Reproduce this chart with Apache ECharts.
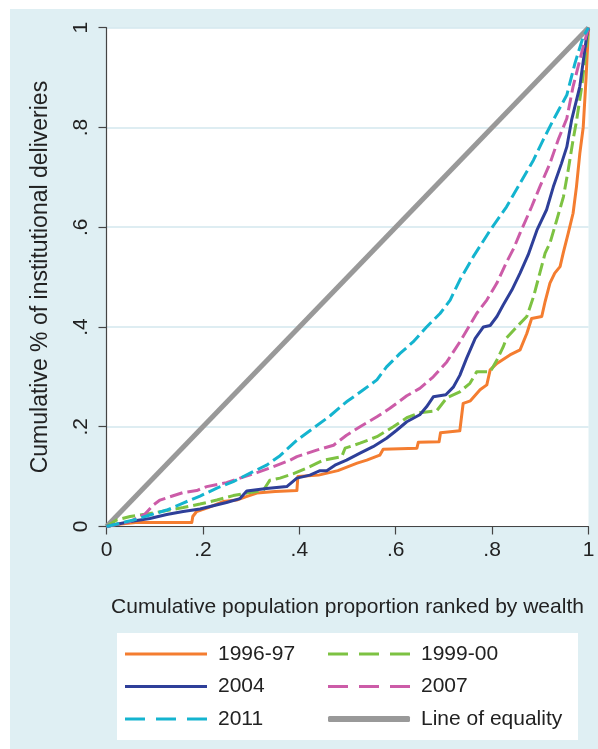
<!DOCTYPE html>
<html>
<head>
<meta charset="utf-8">
<script src="https://cdn.jsdelivr.net/npm/echarts@6/dist/echarts.min.js"></script>
<style>
html,body{margin:0;padding:0;background:#fff;}
#wrap{position:relative;width:598px;height:749px;background:#fff;overflow:hidden;}
#chart{position:absolute;left:10px;top:9px;width:588px;height:740px;}
</style>
</head>
<body>
<div id="wrap"><div id="chart"></div></div>
<script>
const seriesNames = ['1996-97','1999-00','2004','2007','2011','Line of equality'];
const tickValues = [0,0.2,0.4,0.6,0.8,1];
const tickLabels = ['0','.2','.4','.6','.8','1'];

const y1996 = [[0,0],[0.02,0.004],[0.06,0.008],[0.177,0.008],[0.179,0.02],[0.187,0.03],[0.211,0.038],[0.242,0.05],[0.27,0.053],[0.29,0.06],[0.312,0.067],[0.35,0.07],[0.395,0.072],[0.397,0.1],[0.44,0.103],[0.48,0.112],[0.52,0.127],[0.54,0.133],[0.567,0.143],[0.574,0.155],[0.644,0.157],[0.647,0.169],[0.69,0.17],[0.693,0.188],[0.733,0.192],[0.74,0.247],[0.755,0.252],[0.775,0.274],[0.789,0.284],[0.796,0.314],[0.81,0.327],[0.837,0.344],[0.858,0.354],[0.872,0.387],[0.882,0.417],[0.903,0.421],[0.91,0.451],[0.92,0.488],[0.93,0.508],[0.941,0.521],[0.948,0.55],[0.958,0.588],[0.968,0.628],[0.975,0.681],[0.982,0.748],[0.989,0.80],[0.995,0.90],[1,1]];
const y1999 = [[0,0],[0.021,0.013],[0.049,0.02],[0.09,0.026],[0.125,0.032],[0.159,0.038],[0.194,0.045],[0.229,0.053],[0.263,0.062],[0.291,0.067],[0.325,0.072],[0.339,0.093],[0.36,0.097],[0.388,0.106],[0.422,0.12],[0.45,0.133],[0.488,0.14],[0.495,0.157],[0.526,0.167],[0.561,0.18],[0.595,0.2],[0.623,0.218],[0.65,0.228],[0.685,0.232],[0.706,0.258],[0.733,0.27],[0.754,0.287],[0.768,0.31],[0.796,0.31],[0.81,0.334],[0.823,0.36],[0.83,0.378],[0.851,0.4],[0.872,0.421],[0.886,0.461],[0.899,0.508],[0.91,0.548],[0.92,0.568],[0.934,0.614],[0.948,0.661],[0.958,0.715],[0.968,0.775],[0.975,0.812],[0.986,0.882],[1,1]];
const y2004 = [[0,0],[0.049,0.010],[0.09,0.016],[0.125,0.024],[0.159,0.030],[0.194,0.035],[0.215,0.040],[0.249,0.048],[0.277,0.056],[0.291,0.071],[0.332,0.076],[0.374,0.080],[0.395,0.097],[0.422,0.103],[0.443,0.112],[0.457,0.112],[0.474,0.123],[0.498,0.133],[0.526,0.147],[0.553,0.160],[0.581,0.177],[0.602,0.193],[0.623,0.210],[0.650,0.224],[0.664,0.240],[0.678,0.260],[0.704,0.264],[0.720,0.280],[0.733,0.303],[0.747,0.337],[0.765,0.377],[0.782,0.400],[0.796,0.403],[0.810,0.421],[0.823,0.444],[0.841,0.474],[0.858,0.508],[0.875,0.545],[0.893,0.594],[0.913,0.635],[0.927,0.681],[0.944,0.728],[0.955,0.761],[0.965,0.815],[0.982,0.882],[0.996,0.982],[1,1]];
const y2007 = [[0,0],[0.049,0.010],[0.08,0.025],[0.097,0.043],[0.111,0.053],[0.159,0.068],[0.187,0.072],[0.208,0.080],[0.249,0.088],[0.277,0.097],[0.312,0.108],[0.346,0.120],[0.381,0.133],[0.395,0.140],[0.436,0.153],[0.471,0.163],[0.498,0.183],[0.526,0.200],[0.561,0.220],[0.588,0.237],[0.623,0.262],[0.650,0.277],[0.678,0.300],[0.706,0.330],[0.733,0.370],[0.768,0.427],[0.789,0.454],[0.810,0.488],[0.830,0.530],[0.844,0.556],[0.858,0.588],[0.882,0.641],[0.899,0.681],[0.920,0.728],[0.937,0.775],[0.955,0.818],[0.968,0.882],[0.989,0.962],[1,1]];
const y2011 = [[0,0],[0.056,0.013],[0.09,0.023],[0.125,0.033],[0.159,0.047],[0.194,0.061],[0.229,0.077],[0.263,0.090],[0.298,0.107],[0.332,0.123],[0.360,0.142],[0.395,0.173],[0.429,0.197],[0.464,0.222],[0.498,0.250],[0.533,0.274],[0.561,0.294],[0.581,0.320],[0.609,0.347],[0.636,0.370],[0.664,0.400],[0.692,0.427],[0.713,0.454],[0.733,0.494],[0.761,0.541],[0.796,0.594],[0.830,0.641],[0.858,0.688],[0.886,0.735],[0.906,0.775],[0.927,0.815],[0.955,0.865],[0.972,0.929],[0.989,0.982],[1,1]];
const equality = [[0,0],[1,1]];

const colors = {
  '1996-97':'#f47d30',
  '1999-00':'#7dc242',
  '2004':'#2e3f99',
  '2007':'#cc5ca8',
  '2011':'#14b4cf',
  'Line of equality':'#999999'
};
const FONT = '"Liberation Sans", Arial, Helvetica, sans-serif';
const TXT = '#222';
const DASH_ICON = 'path://M0,0h20v3h-20z M31,0h20v3h-20z M62,0h20v3h-20z';
const SOLID_ICON = 'path://M0,0h82v3h-82z';

function fmt(v){
  for (let i=0;i<tickValues.length;i++){ if (Math.abs(v-tickValues[i])<1e-9) return tickLabels[i]; }
  return '';
}

function lineSeries(name, data, dashed, width, z){
  return {
    name, type:'line', data, symbol:'none', z: z, animation:false,
    lineStyle:{color:colors[name], width:width, type: dashed ? [13,5] : 'solid', cap:'butt', join:'round'},
    itemStyle:{color:colors[name]}
  };
}

const chart = echarts.init(document.getElementById('chart'), null, {renderer:'canvas'});
const legendText = {fontFamily:FONT, fontSize:21, color:TXT, lineHeight:22, padding:[0,0,0,6]};
function legendBase(left, top, itemHeight, data){
  return {orient:'vertical', left, top, padding:0, itemWidth:82, itemHeight, itemGap:10.5,
    data, textStyle:legendText, selectedMode:false, z:5,
    itemStyle:{borderWidth:0}};
}
chart.setOption({
  backgroundColor:'#dfeff3',
  animation:false,
  textStyle:{fontFamily:FONT},
  grid:{left:96.5, top:18.7, width:482, height:498.8, show:true, backgroundColor:'#ffffff', borderWidth:0, containLabel:false},
  graphic:[{type:'rect', shape:{x:107, y:624, width:461, height:107}, style:{fill:'#ffffff'}, z:0, silent:true}],
  legend:[
    legendBase(115, 634, 3, [
      {name:'1996-97', icon:SOLID_ICON},
      {name:'2004', icon:SOLID_ICON},
      {name:'2011', icon:DASH_ICON}
    ]),
    legendBase(318, 634, 3, [
      {name:'1999-00', icon:DASH_ICON},
      {name:'2007', icon:DASH_ICON}
    ]),
    legendBase(318, 699, 6, [
      {name:'Line of equality', icon:'roundRect'}
    ])
  ],
  xAxis:{
    type:'value', min:0, max:1, interval:0.2,
    name:'Cumulative population proportion ranked by wealth', nameLocation:'middle', nameGap:70,
    nameTextStyle:{fontFamily:FONT, fontSize:21, color:TXT},
    axisLine:{show:true, lineStyle:{color:'#444', width:1.2}},
    axisTick:{show:true, length:8, lineStyle:{color:'#444', width:1.2}},
    axisLabel:{formatter:fmt, fontFamily:FONT, fontSize:21, color:TXT, margin:13},
    splitLine:{show:false}
  },
  yAxis:{
    type:'value', min:0, max:1, interval:0.2,
    name:'Cumulative % of institutional deliveries', nameLocation:'middle', nameGap:54, nameRotate:90,
    nameTextStyle:{fontFamily:FONT, fontSize:23, color:TXT},
    axisLine:{show:true, lineStyle:{color:'#444', width:1.2}},
    axisTick:{show:true, length:8, lineStyle:{color:'#444', width:1.2}},
    axisLabel:{formatter:fmt, fontFamily:FONT, fontSize:21, color:TXT, margin:15, rotate:90},
    splitLine:{show:true, lineStyle:{color:'#d3e7ee', width:1.5}}
  },
  series:[
    lineSeries('Line of equality', equality, false, 5, 2),
    lineSeries('1996-97', y1996, false, 3, 3),
    lineSeries('1999-00', y1999, true, 3, 3),
    lineSeries('2004', y2004, false, 3, 3),
    lineSeries('2007', y2007, true, 3, 3),
    lineSeries('2011', y2011, true, 3, 3)
  ]
});
</script>
</body>
</html>
